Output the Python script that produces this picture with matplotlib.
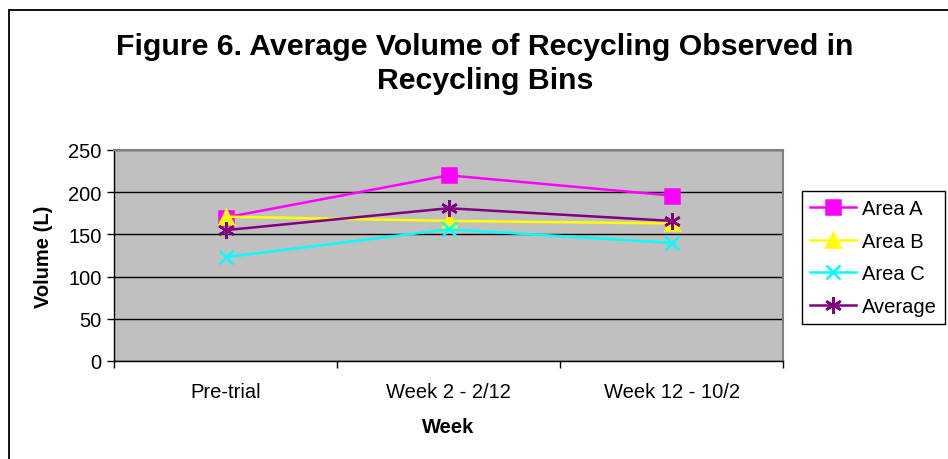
"""Figure 6 line chart: average recycling volume per area."""
import matplotlib
matplotlib.use("Agg")
import matplotlib.pyplot as plt
from matplotlib.patches import Rectangle
from matplotlib.ticker import FixedLocator, NullFormatter

plt.rcParams["font.family"] = ["Liberation Sans", "DejaVu Sans"]

weeks = ["Pre-trial", "Week 2 - 2/12", "Week 12 - 10/2"]
area_a = [170, 220, 196]
area_b = [171, 166, 163]
area_c = [123, 156, 140]
average = [155, 181, 166]

series = [
    ("Area A", area_a, "#FF00FF", "s", 10),
    ("Area B", area_b, "#FFFF00", "^", 10),
    ("Area C", area_c, "#00FFFF", "x", 10),
    ("Average", average, "#800080", (6, 2, 0), 12),
]

FS = 14.5

fig = plt.figure(figsize=(9.48, 4.6), dpi=100)
ax = fig.add_axes([114 / 948, 1 - 362 / 460, 669 / 948, 211 / 460])
ax.set_facecolor("#C0C0C0")

x = list(range(len(weeks)))
for name, vals, color, marker, ms in series:
    ax.plot(x, vals, color=color, lw=1.8, marker=marker, markersize=ms,
            markeredgewidth=1.8, markerfacecolor=color, markeredgecolor=color,
            label=name, zorder=3)

ax.set_xlim(-0.5, 2.5)
ax.set_ylim(0, 250)
ax.set_yticks(range(0, 251, 50))
ax.yaxis.grid(True, color="black", lw=1)
ax.set_axisbelow(True)

ax.set_xticks(x)
ax.set_xticklabels(weeks)
ax.xaxis.set_minor_locator(FixedLocator([-0.5, 0.5, 1.5, 2.5]))
ax.xaxis.set_minor_formatter(NullFormatter())
ax.tick_params(axis="x", which="major", length=0, pad=15, labelsize=FS)
ax.tick_params(axis="x", which="minor", length=5, width=1, color="black")
ax.tick_params(axis="y", length=5, width=1, pad=4, labelsize=FS)

for side in ("top", "right"):
    ax.spines[side].set_color("#808080")
    ax.spines[side].set_linewidth(1.5)
for side in ("left", "bottom"):
    ax.spines[side].set_color("black")
    ax.spines[side].set_linewidth(1)

ax.set_xlabel("Week", fontsize=FS, fontweight="bold")
ax.xaxis.set_label_coords(0.5, -0.265)
ax.set_ylabel("Volume (L)", fontsize=FS, fontweight="bold")
ax.yaxis.set_label_coords(-0.091, 0.5)

fig.text(485 / 948, 1 - 64 / 460,
         "Figure 6. Average Volume of Recycling Observed in\nRecycling Bins",
         ha="center", va="center", fontsize=21.8, fontweight="bold",
         linespacing=1.3)

leg = ax.legend(loc="upper left", bbox_to_anchor=(802 / 948, 1 - 192 / 460),
                bbox_transform=fig.transFigure, fontsize=FS, frameon=True,
                fancybox=False, shadow=False, handlelength=2.3,
                handletextpad=0.3, labelspacing=0.68, borderpad=0.4,
                borderaxespad=0)
leg.get_frame().set_edgecolor("black")
leg.get_frame().set_linewidth(1)
leg.get_frame().set_facecolor("white")
leg.get_frame().set_alpha(1)

# outer chart border, runs off the right and bottom edges
fig.patches.append(Rectangle((9 / 948, -0.1), 1.2, 1 - 11 / 460 + 0.1,
                             transform=fig.transFigure, fill=False,
                             ec="black", lw=1.3))

fig.savefig("out.png", dpi=100)
plt.close(fig)
